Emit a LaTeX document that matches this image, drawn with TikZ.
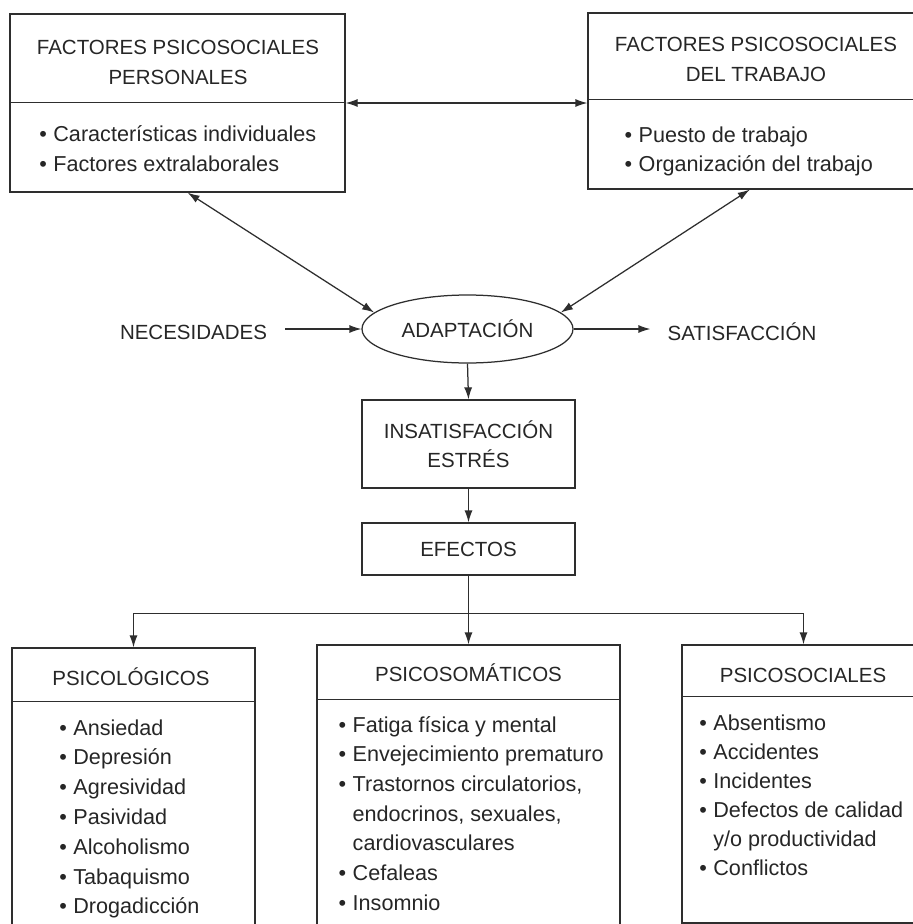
\documentclass[tikz,border=0pt]{standalone}
\usepackage{fontspec}
\setmainfont{Liberation Sans}
\usetikzlibrary{arrows.meta,shapes.geometric,calc}
\newcommand\itembul{\makebox[14pt][l]{•}}
\newcommand\itemhang{\hspace*{14pt}}
\begin{document}
\begin{tikzpicture}[x=1pt,y=-1pt,
  ink/.style={draw=black!82, line width=1.25pt},
  frame/.style={ink, rectangle, inner sep=0pt},
  txt/.style={text=black!85, font=\fontsize{20.5}{30}\selectfont, inner sep=0pt},
  item/.style={txt, font=\fontsize{21.6}{30}\selectfont, anchor=base west},
  arr/.style={ink, -{Latex[length=12pt,width=8pt]}},
  darr/.style={ink, {Latex[length=12pt,width=8pt]}-{Latex[length=12pt,width=8pt]}}]
\useasboundingbox (0,0) rectangle (913,924);
\fill[white] (0,0) rectangle (913,924);
\clip (0,0) rectangle (913,924);

% top boxes
\node[frame, minimum width=335pt, minimum height=178pt] (p1) at (177.5,103) {};
\draw[ink] ($(p1.north west)+(0,89)$) -- ($(p1.north east)+(0,89)$);
\node[txt, align=center] (p1t) at (178,62) {FACTORES PSICOSOCIALES\\PERSONALES};
\node[item] (p1a) at (39.2,141) {\itembul Características individuales};
\node[item] (p1b) at (39.2,171) {\itembul Factores extralaborales};

\node[frame, minimum width=337pt, minimum height=176pt] (p2) at (756.5,101) {};
\draw[ink] ($(p2.north west)+(0,87)$) -- ($(p2.north east)+(0,87)$);
\node[txt, align=center] (p2t) at (756,59) {FACTORES PSICOSOCIALES\\DEL TRABAJO};
\node[item] (p2a) at (624.5,142) {\itembul Puesto de trabajo};
\node[item] (p2b) at (624.5,171) {\itembul Organización del trabajo};

% middle row
\node[txt, ink, draw, ellipse, minimum width=211pt, minimum height=68pt] (ad) at (467.5,329) {ADAPTACIÓN};
\node[txt] (nec) at (193.5,332) {NECESIDADES};
\node[txt] (sat) at (742,332) {SATISFACCIÓN};

\node[frame, txt, align=center, minimum width=213pt, minimum height=88pt] (ins) at (468.5,444) {INSATISFACCIÓN\\[-1pt]ESTRÉS};
\node[frame, txt, minimum width=213pt, minimum height=52pt] (ef) at (468.5,549) {EFECTOS};

% bottom boxes
\node[frame, minimum width=243pt, minimum height=287pt] (b1) at (133.5,791.5) {};
\draw[ink] ($(b1.north west)+(0,54)$) -- ($(b1.north east)+(0,54)$);
\node[txt] (b1t) at (131,677) {PSICOLÓGICOS};
\foreach \t [count=\i] in {Ansiedad,Depresión,Agresividad,Pasividad,Alcoholismo,Tabaquismo,Drogadicción}
  \node[item] (l\i) at (59.2,{735+(\i-1)*29.8}) {\itembul\t};

\node[frame, minimum width=303pt, minimum height=290pt] (b2) at (468.5,790) {};
\draw[ink] ($(b2.north west)+(0,55)$) -- ($(b2.north east)+(0,55)$);
\node[txt] (b2t) at (468.5,673) {PSICOSOMÁTICOS};
\foreach \t [count=\i] in {{\itembul Fatiga física y mental},{\itembul Envejecimiento prematuro},{\itembul Trastornos circulatorios,},{\itemhang endocrinos, sexuales,},{\itemhang cardiovasculares},{\itembul Cefaleas},{\itembul Insomnio}}
  \node[item] (m\i) at (338.5,{732+(\i-1)*29.7}) {\t};

\node[frame, minimum width=243pt, minimum height=278pt] (b3) at (803.5,784) {};
\draw[ink] ($(b3.north west)+(0,52)$) -- ($(b3.north east)+(0,52)$);
\node[txt] (b3t) at (803,675) {PSICOSOCIALES};
\foreach \t [count=\i] in {{\itembul Absentismo},{\itembul Accidentes},{\itembul Incidentes},{\itembul Defectos de calidad},{\itemhang y/o productividad},{\itembul Conflictos}}
  \node[item] (s\i) at (699.2,{730+(\i-1)*29}) {\t};

% connectors
\draw[darr] (p1.east) -- (p2.west |- p1.east);
\coordinate (p1s) at ($(p1.south west)!0.53!(p1.south east)$);
\coordinate (p2s) at ($(p2.south west)!0.48!(p2.south east)$);
\draw[darr] (p1s) -- (ad.170);
\draw[darr] (p2s) -- (ad.10);
\draw[arr, shorten <=18pt] (nec.east |- ad.west) -- (ad.west);
\draw[arr, shorten >=17pt] (ad.east) -- (sat.west |- ad.east);
\draw[arr] (ad.south) -- (ins.north);
\draw[arr] (ins.south) -- (ef.north);
\coordinate (hub) at ($(ef.south)+(0,38)$);
\draw[arr] (ef.south) -- (b2.north);
\draw[arr] (hub) -| (b1.north);
\draw[arr] (hub) -| (b3.north);
\end{tikzpicture}
\end{document}
